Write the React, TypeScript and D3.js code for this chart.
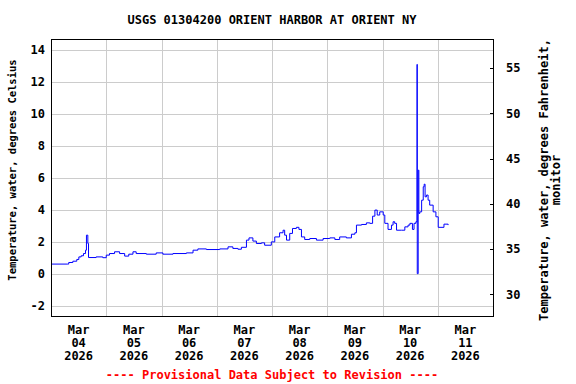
import React from 'react';
import * as d3 from 'd3';

// hours since Mar 04 2026 00:00, water temperature in deg C
const hours = [
  0, 7.3, 7.7, 9.5, 11.2, 12.1, 13.1, 14.1, 15.0, 15.4, 16.0, 16.3, 19.6, 22.5,
  24, 25.4, 27.6, 29.8, 32, 33.8, 35.6, 37, 41.4, 45.7, 48.6, 53, 58.8, 61.7,
  63.8, 67.5, 73.3, 76.9, 79.0, 81.2, 82.7, 84.9, 86.0, 87.7, 89.2, 91.4, 92.8,
  94.7, 95.7, 97.2, 99.3, 100.8, 101.5, 102.3, 103.7, 104.9, 106.6, 107.7,
  108.8, 110.2, 112.4, 115.3, 118.2, 121.1, 123.3, 125.4, 128.3, 130.5, 132.0,
  132.7, 134.9, 137.0, 138.5, 139.7, 140.7, 141.7, 142.8, 144.3, 145.0, 146.4,
  147.9, 148.6, 149.3, 150.1, 152.3, 153.7, 155.1, 155.9, 157.0, 157.7, 158.5,
  159.0, 159.1, 159.5, 159.8, 160.2, 161.0, 161.7, 162.1, 162.5, 163.1, 163.8,
  164.5, 166.0, 167.2, 168.2, 170.3, 170.7, 172.5,
];
const tempC = [
  0.6, 0.6, 0.7, 0.78, 0.89, 1.05, 1.12, 1.26, 1.47, 2.41, 1.89, 1.01, 1.05, 1.0,
  1.16, 1.26, 1.37, 1.26, 1.1, 1.22, 1.37, 1.26, 1.22, 1.3, 1.22, 1.26, 1.3, 1.47,
  1.55, 1.51, 1.55, 1.68, 1.58, 1.53, 1.65, 2.1, 2.24, 2.04, 1.89, 1.93, 1.78,
  1.78, 1.99, 2.3, 2.56, 2.72, 2.41, 2.1, 2.52, 2.83, 2.9, 2.77,
  2.3, 2.14, 2.2, 2.1, 2.2, 2.24, 2.14, 2.3, 2.24, 2.47, 2.56,
  3.04, 3.08, 3.18, 3.15, 3.6, 3.98, 3.67, 3.87, 3.67, 3.15, 2.77,
  3.04, 3.25, 3.15, 2.72, 2.72, 2.93, 3.04, 3.15, 2.77, 3.15, 3.25,
  13.1, 0.0, 6.48, 3.77, 3.87, 4.6, 5.44, 5.6, 4.81, 4.92, 4.6,
  4.29, 3.87, 3.56, 2.9, 2.9, 3.1, 3.04,
];
const celsiusTicks = [-2, 0, 2, 4, 6, 8, 10, 12, 14];
const fahrenheitTicks = [30, 35, 40, 45, 50, 55];
const dayLabels = ['04', '05', '06', '07', '08', '09', '10', '11'];

const start = new Date(2026, 2, 4);
const end = new Date(2026, 2, 12);

const W = 576;
const H = 384;
const left = 51;
const right = 493;
const top = 39;
const bottom = 316;

const font = "'DejaVu Sans Mono', monospace";

export default function App() {
  const x = d3.scaleTime().domain([start, end]).range([left, right]);
  const y = d3.scaleLinear().domain([-2.65, 14.69]).range([bottom, top]);
  const yF = d3.scaleLinear().domain([27.62, 58.23]).range([bottom, top]);

  const data = hours.map((h, i) => ({ t: d3.timeMinute.offset(start, h * 60), v: tempC[i] }));
  const line = d3
    .line<{ t: Date; v: number }>()
    .curve(d3.curveStepAfter)
    .x(d => x(d.t))
    .y(d => y(d.v));

  const midnights = d3.timeDay.range(d3.timeDay.offset(start, 1), end);
  const noons = dayLabels.map((_, i) => d3.timeHour.offset(start, 24 * i + 12));
  const midX = (left + right) / 2;

  return (
    <svg
      width={W}
      height={H}
      style={{ position: 'absolute', left: 0, top: 0, background: '#fff' }}
      fontFamily={font}
      fontWeight="bold"
      fontSize={12}
    >
      <rect x={0} y={0} width={W} height={H} fill="#fff" />
      {/* grid */}
      {celsiusTicks.map(t => (
        <line key={'h' + t} x1={left} x2={right} y1={Math.round(y(t)) + 0.5} y2={Math.round(y(t)) + 0.5} stroke="#cccccc" />
      ))}
      {midnights.map((d, i) => (
        <line key={'v' + i} x1={Math.round(x(d)) + 0.5} x2={Math.round(x(d)) + 0.5} y1={top} y2={bottom} stroke="#cccccc" />
      ))}
      {/* series */}
      <path d={line(data) || ''} fill="none" stroke="#0000ff" strokeWidth={1} />
      {/* frame */}
      <rect x={left + 0.5} y={top + 0.5} width={right - left} height={bottom - top} fill="none" stroke="#000" />
      {/* left axis */}
      {celsiusTicks.map(t => (
        <text key={'l' + t} x={45} y={y(t)} dy="0.35em" textAnchor="end">
          {t < 0 ? '-' + Math.abs(t) : t}
        </text>
      ))}
      {/* right axis */}
      {fahrenheitTicks.map(t => (
        <g key={'r' + t}>
          <line x1={right - 3} x2={right} y1={Math.round(yF(t)) + 0.5} y2={Math.round(yF(t)) + 0.5} stroke="#000" />
          <text x={506} y={yF(t)} dy="0.35em" textAnchor="start">
            {t}
          </text>
        </g>
      ))}
      {/* x axis labels */}
      {noons.map((d, i) => (
        <g key={'x' + i} textAnchor="middle">
          <text x={x(d)} y={334}>Mar</text>
          <text x={x(d)} y={347}>{dayLabels[i]}</text>
          <text x={x(d)} y={360}>2026</text>
        </g>
      ))}
      {/* titles */}
      <text x={midX} y={24} textAnchor="middle">
        USGS 01304200 ORIENT HARBOR AT ORIENT NY
      </text>
      <text transform="translate(16,170) rotate(-90)" textAnchor="middle" fontSize={10.5}>
        Temperature, water, degrees Celsius
      </text>
      <text transform="translate(548,180) rotate(-90)" textAnchor="middle">
        Temperature, water, degrees Fahrenheit,
      </text>
      <text transform="translate(560,180) rotate(-90)" textAnchor="middle">
        monitor
      </text>
      <text x={midX} y={379} textAnchor="middle" fill="#ff0000">
        ---- Provisional Data Subject to Revision ----
      </text>
    </svg>
  );
}
